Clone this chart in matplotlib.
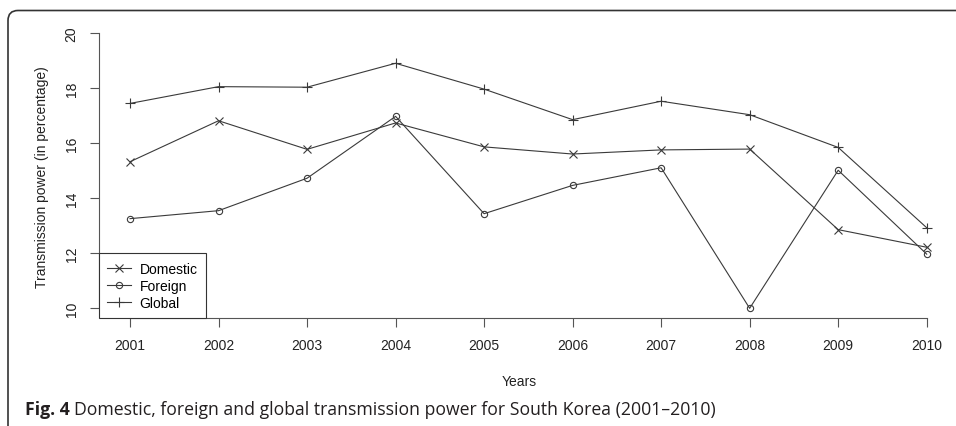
import matplotlib

matplotlib.use("Agg")
import matplotlib.pyplot as plt
from matplotlib.patches import FancyBboxPatch
from matplotlib.lines import Line2D

# values
years = [2001, 2002, 2003, 2004, 2005, 2006, 2007, 2008, 2009, 2010]
domestic = [15.33, 16.82, 15.78, 16.74, 15.87, 15.61, 15.76, 15.79, 12.86, 12.22]
foreign = [13.26, 13.55, 14.73, 16.98, 13.44, 14.47, 15.11, 10.0, 15.02, 11.97]
global_ = [17.45, 18.06, 18.04, 18.91, 17.97, 16.86, 17.53, 17.04, 15.85, 12.93]
y_ticks = [10, 12, 14, 16, 18, 20]

W, H = 956, 427
plt.rcParams["font.family"] = ["Liberation Sans", "DejaVu Sans"]
fs = 10

fig = plt.figure(figsize=(W / 100, H / 100), dpi=100)
# axes box in pixels: left spine x=98.7, bottom spine y=319, top (value 20) y=34.3
left, right, top, bottom = 98.7, 940, 34.3, 319
ax = fig.add_axes([left / W, 1 - bottom / H, (right - left) / W, (bottom - top) / H])

px_per_year = 88.5
ax.set_xlim(2001 - (130 - left) / px_per_year, 2010 + (right - 926.7) / px_per_year)
ax.set_ylim(20 - (bottom - top) / 27.5, 20)

line_col = "#3a3a3a"
kw = dict(color=line_col, lw=0.8, mfc="none", mec=line_col, mew=0.8)
ax.plot(years, domestic, marker="x", ms=5.5, clip_on=False, **kw)
ax.plot(years, foreign, marker="o", ms=4.5, clip_on=False, **kw)
ax.plot(years, global_, marker="+", ms=7.5, clip_on=False, **kw)

for s in ("top", "right"):
    ax.spines[s].set_visible(False)
ax.spines["left"].set_bounds(10, 20)
ax.spines["bottom"].set_bounds(2001, 2010)
for s in ("left", "bottom"):
    ax.spines[s].set_color("#555555")
    ax.spines[s].set_linewidth(0.8)

ax.set_xticks(years)
ax.set_yticks(y_ticks)
ax.tick_params(axis="both", direction="out", length=6.5, width=0.8, color="#555555",
               labelsize=fs, labelcolor="#222222", pad=8)
for lab in ax.get_yticklabels():
    lab.set_rotation(90)
    lab.set_va("center")

ax.set_xlabel("Years", fontsize=fs, color="#222222", labelpad=16)
ax.set_ylabel("Transmission power (in percentage)", fontsize=fs, color="#222222", labelpad=11)

handles = [
    Line2D([], [], marker="x", ms=5.5, **kw),
    Line2D([], [], marker="o", ms=4.5, **kw),
    Line2D([], [], marker="+", ms=7.5, **kw),
]
leg = ax.legend(handles, ["Domestic", "Foreign", "Global"], loc="lower left",
                bbox_to_anchor=(0, 0), borderaxespad=0, fontsize=fs, fancybox=False,
                handlelength=1.75, handletextpad=0.6, labelspacing=0.22, borderpad=0.6,
                framealpha=1, edgecolor="#333333")
leg.get_frame().set_linewidth(0.8)

# rounded outer frame (only top-left visible)
frame = FancyBboxPatch((8, -50), 1100, H - 11.5 + 50, boxstyle="round,pad=0,rounding_size=10",
                       transform=None, fill=False, ec="#333333", lw=1.2)
fig.add_artist(frame)

# caption
cap_y = 1 - 410 / H
cap_font = ["Open Sans", "DejaVu Sans"]
t1 = fig.text(25 / W, cap_y, "Fig. 4", fontsize=12.7, fontweight="bold", family=cap_font,
              color="#231f20", va="center")
renderer = fig.canvas.get_renderer()
bb = t1.get_window_extent(renderer)
fig.text((bb.x1 + 4) / W, cap_y,
         "Domestic, foreign and global transmission power for South Korea (2001\u20132010)",
         fontsize=12.7, family=cap_font, color="#231f20", va="center")

fig.savefig("out.png", dpi=100)
